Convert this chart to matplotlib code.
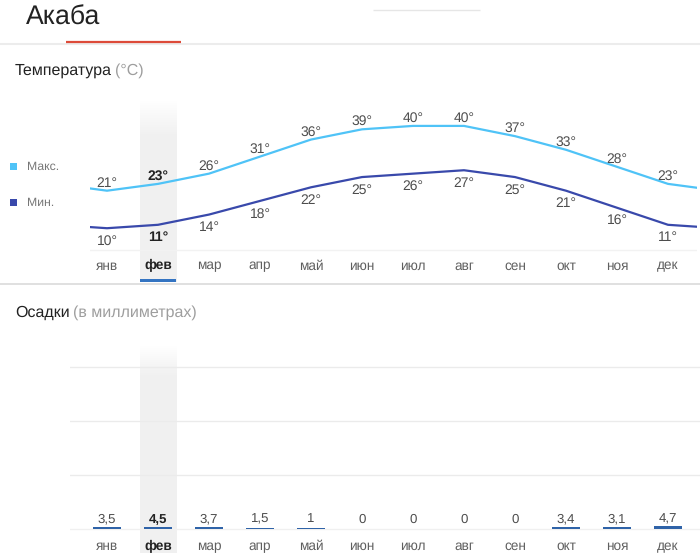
import matplotlib
matplotlib.use('Agg')
import matplotlib.pyplot as plt
from matplotlib.patches import Rectangle
import numpy as np

plt.rcParams['font.family'] = ['Liberation Sans', 'DejaVu Sans']
plt.rcParams['text.hinting'] = 'no_hinting'

# datos del widget
ciudad = 'Акаба'
meses = ['янв', 'фев', 'мар', 'апр', 'май', 'июн',
         'июл', 'авг', 'сен', 'окт', 'ноя', 'дек']
t_max = [21, 23, 26, 31, 36, 39, 40, 40, 37, 33, 28, 23]
t_min = [10, 11, 14, 18, 22, 25, 26, 27, 25, 21, 16, 11]
lluvia = [3.5, 4.5, 3.7, 1.5, 1, 0, 0, 0, 0, 3.4, 3.1, 4.7]
lluvia_txt = ['3,5', '4,5', '3,7', '1,5', '1', '0', '0', '0', '0', '3,4', '3,1', '4,7']
mes_activo = 1

W, H = 700, 553
C_MAX = '#4fc3f7'
C_MIN = '#3949ab'
GRIS = '#5f5f5f'
GRIS_VAL = '#4d4d4d'


def caja(x0, y0, x1, y1):
    # rectangulo en pixeles (origen arriba a la izquierda) -> fraccion de figura
    return [x0 / W, 1 - y1 / H, (x1 - x0) / W, (y1 - y0) / H]


def banda(ax, y0, y1, fade):
    # columna gris del mes seleccionado, con degradado arriba
    n = 200
    a = np.clip(np.linspace(0, 1, n) / fade, 0, 1)
    img = np.zeros((n, 1, 4))
    img[..., :3] = 0.945
    img[:, 0, 3] = a
    ax.imshow(img, extent=[mes_activo - 0.353, mes_activo + 0.353, y0, y1],
              aspect='auto', origin='upper', zorder=0, interpolation='bilinear')


fig = plt.figure(figsize=(W / 100, H / 100), dpi=100)

fondo = fig.add_axes([0, 0, 1, 1])
fondo.set_xlim(0, W)
fondo.set_ylim(H, 0)
fondo.axis('off')

# lineas de la cabecera
fondo.hlines(10, 373, 480, color='#e6e6e6', lw=1)
fondo.hlines(43.5, 0, W, color='#ececec', lw=1.5)
fondo.hlines(41.5, 66, 181, color='#dd4b39', lw=1.6)
fondo.hlines(283.5, 0, W, color='#dadada', lw=1.2)

fondo.text(26, 25, ciudad, fontsize=19.2, color='#222222', va='baseline')

r = fig.canvas.get_renderer()
t1 = fondo.text(15, 75, 'Температура', fontsize=11.5, color='#222222', va='baseline')
bb = t1.get_window_extent(r)
fondo.text(bb.x1 + 3, 75, '(°C)', fontsize=11.5, color='#9e9e9e', va='baseline')
t2 = fondo.text(15, 317, 'Осадки', fontsize=11.5, color='#222222', va='baseline')
bb = t2.get_window_extent(r)
fondo.text(bb.x1 + 3, 317, '(в миллиметрах)', fontsize=11.5, color='#9e9e9e', va='baseline')

# leyenda
fondo.add_patch(Rectangle((10, 163), 7, 7, color=C_MAX, lw=0))
fondo.text(27, 166.5, 'Макс.', fontsize=8.8, color='#777777', va='center')
fondo.add_patch(Rectangle((10, 199), 7, 7, color=C_MIN, lw=0))
fondo.text(27, 202.5, 'Мин.', fontsize=8.8, color='#777777', va='center')

x0, dx = 107, 51

# ---- temperatura ----
ax_t = fig.add_axes(caja(90, 100, 697, 282))
ax_t.axis('off')
yb, yt = 21 - (282 - 190.7) / 3.41, 21 + (190.7 - 100) / 3.41
banda(ax_t, yb, yt, 0.2)
ax_t.set_xlim((90 - x0) / dx, (697 - x0) / dx)
ax_t.set_ylim(yb, yt)

xs = np.arange(-1, 13)
ax_t.plot(xs, np.r_[t_max[-1], t_max, t_max[0]], color=C_MAX, lw=1.6, zorder=2)
ax_t.plot(xs, np.r_[t_min[-1], t_min, t_min[0]], color=C_MIN, lw=1.6, zorder=2)
ax_t.axhline(21 - (250 - 190.7) / 3.41, color='#f2f2f2', lw=1, zorder=1)

for i in range(12):
    act = i == mes_activo
    fw = 'bold' if act else 'normal'
    col = '#222222' if act else GRIS_VAL
    ax_t.annotate(f'{t_max[i]}°', (i, t_max[i]), xytext=(0, 4), textcoords='offset pixels',
                  ha='center', va='baseline', fontsize=10, color=col, fontweight=fw)
    ax_t.annotate(f'{t_min[i]}°', (i, t_min[i]), xytext=(0, -16.5), textcoords='offset pixels',
                  ha='center', va='baseline', fontsize=10, color=col, fontweight=fw)
    ax_t.text(i, (282 - 269.5) / 182, meses[i], transform=ax_t.get_xaxis_transform(),
              ha='center', va='baseline', fontsize=9.8, fontweight=fw,
              color='#222222' if act else GRIS)

ax_t.add_patch(Rectangle((mes_activo - 0.353, 0), 0.706, 3 / 182, color='#3474c2', lw=0,
                         transform=ax_t.get_xaxis_transform(), clip_on=False))

# ---- osadki ----
ax_p = fig.add_axes(caja(70, 345, 700, 553))
ax_p.axis('off')
pb, pt = -(553 - 529) / 0.54, (529 - 345) / 0.54
banda(ax_p, pb, pt, 0.15)
ax_p.set_xlim((70 - x0) / dx, (700 - x0) / dx)
ax_p.set_ylim(pb, pt)

for g in (100, 200, 300):
    ax_p.axhline(g, color='#ebebeb', lw=1, zorder=1)
ax_p.axhline(0, color='#f0f0f0', lw=1, zorder=1)
ax_p.bar(range(12), lluvia, width=0.55, color='#2f63a8', zorder=2)

for i in range(12):
    act = i == mes_activo
    fw = 'bold' if act else 'normal'
    ax_p.annotate(lluvia_txt[i], (i, 0), xytext=(0, 6.5), textcoords='offset pixels',
                  ha='center', va='baseline', fontsize=9.5, fontweight=fw,
                  color='#222222' if act else GRIS_VAL)
    ax_p.text(i, (553 - 550) / 208, meses[i], transform=ax_p.get_xaxis_transform(),
              ha='center', va='baseline', fontsize=9.8, fontweight=fw,
              color='#222222' if act else GRIS)

plt.savefig('out.png', dpi=100)
